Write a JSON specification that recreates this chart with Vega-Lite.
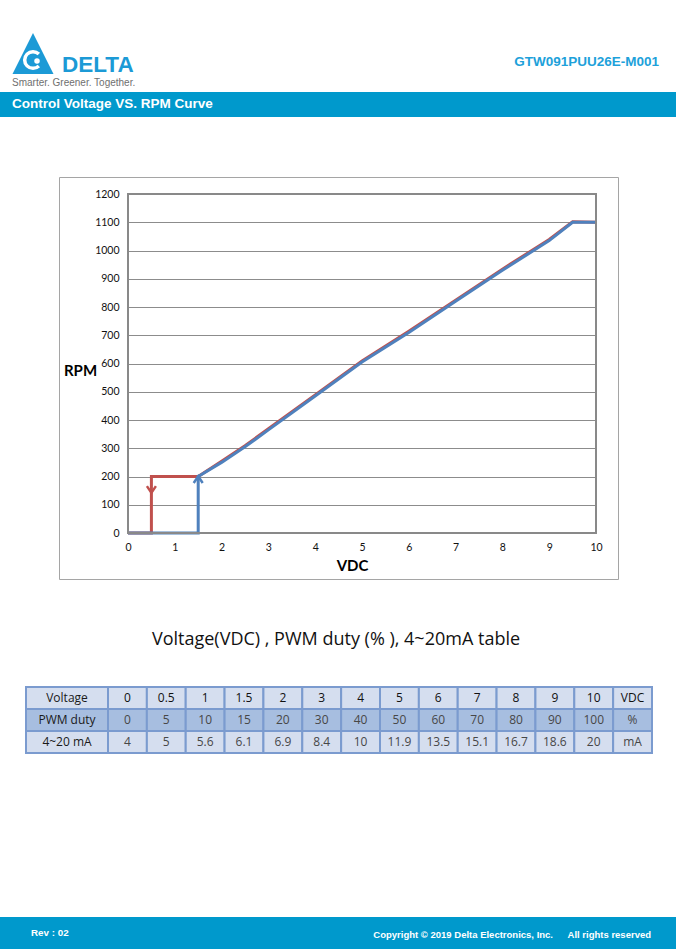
{
  "$schema": "https://vega.github.io/schema/vega-lite/v6.json",
  "width": 676,
  "height": 952,
  "padding": 0,
  "autosize": {"type": "none"},
  "background": "#ffffff",
  "config": {"view": {"stroke": null}, "font": "Liberation Sans"},
  "datasets": {
    "curve": [
      {"series": "down", "step": 1, "vdc": 10, "rpm": 1100},
      {"series": "down", "step": 2, "vdc": 9.5, "rpm": 1102},
      {"series": "down", "step": 3, "vdc": 9, "rpm": 1039},
      {"series": "down", "step": 4, "vdc": 8, "rpm": 934},
      {"series": "down", "step": 5, "vdc": 7, "rpm": 824},
      {"series": "down", "step": 6, "vdc": 6, "rpm": 714},
      {"series": "down", "step": 7, "vdc": 5, "rpm": 609},
      {"series": "down", "step": 8, "vdc": 4, "rpm": 489},
      {"series": "down", "step": 9, "vdc": 3, "rpm": 369},
      {"series": "down", "step": 10, "vdc": 2.5, "rpm": 309},
      {"series": "down", "step": 11, "vdc": 2, "rpm": 254},
      {"series": "down", "step": 12, "vdc": 1.5, "rpm": 200},
      {"series": "down", "step": 13, "vdc": 0.5, "rpm": 200},
      {"series": "down", "step": 14, "vdc": 0.5, "rpm": 0},
      {"series": "down", "step": 15, "vdc": 0, "rpm": 0},
      {"series": "up", "step": 1, "vdc": 0, "rpm": 0},
      {"series": "up", "step": 2, "vdc": 1.5, "rpm": 0},
      {"series": "up", "step": 3, "vdc": 1.5, "rpm": 200},
      {"series": "up", "step": 4, "vdc": 2, "rpm": 250},
      {"series": "up", "step": 5, "vdc": 2.5, "rpm": 305},
      {"series": "up", "step": 6, "vdc": 3, "rpm": 365},
      {"series": "up", "step": 7, "vdc": 4, "rpm": 485},
      {"series": "up", "step": 8, "vdc": 5, "rpm": 605},
      {"series": "up", "step": 9, "vdc": 6, "rpm": 710},
      {"series": "up", "step": 10, "vdc": 7, "rpm": 820},
      {"series": "up", "step": 11, "vdc": 8, "rpm": 930},
      {"series": "up", "step": 12, "vdc": 9, "rpm": 1035},
      {"series": "up", "step": 13, "vdc": 9.5, "rpm": 1100},
      {"series": "up", "step": 14, "vdc": 10, "rpm": 1100}
    ],
    "arrows": [
      {"series": "down", "vdc": 0.5, "rpm": 154},
      {"series": "up", "vdc": 1.5, "rpm": 189}
    ],
    "rowlabels": [
      {"row": "Voltage"},
      {"row": "PWM duty"},
      {"row": "4~20 mA"}
    ],
    "cells": [
      {"row": "Voltage", "col": "0", "value": "0"},
      {"row": "Voltage", "col": "0.5", "value": "0.5"},
      {"row": "Voltage", "col": "1", "value": "1"},
      {"row": "Voltage", "col": "1.5", "value": "1.5"},
      {"row": "Voltage", "col": "2", "value": "2"},
      {"row": "Voltage", "col": "3", "value": "3"},
      {"row": "Voltage", "col": "4", "value": "4"},
      {"row": "Voltage", "col": "5", "value": "5"},
      {"row": "Voltage", "col": "6", "value": "6"},
      {"row": "Voltage", "col": "7", "value": "7"},
      {"row": "Voltage", "col": "8", "value": "8"},
      {"row": "Voltage", "col": "9", "value": "9"},
      {"row": "Voltage", "col": "10", "value": "10"},
      {"row": "Voltage", "col": "unit", "value": "VDC"},
      {"row": "PWM duty", "col": "0", "value": "0"},
      {"row": "PWM duty", "col": "0.5", "value": "5"},
      {"row": "PWM duty", "col": "1", "value": "10"},
      {"row": "PWM duty", "col": "1.5", "value": "15"},
      {"row": "PWM duty", "col": "2", "value": "20"},
      {"row": "PWM duty", "col": "3", "value": "30"},
      {"row": "PWM duty", "col": "4", "value": "40"},
      {"row": "PWM duty", "col": "5", "value": "50"},
      {"row": "PWM duty", "col": "6", "value": "60"},
      {"row": "PWM duty", "col": "7", "value": "70"},
      {"row": "PWM duty", "col": "8", "value": "80"},
      {"row": "PWM duty", "col": "9", "value": "90"},
      {"row": "PWM duty", "col": "10", "value": "100"},
      {"row": "PWM duty", "col": "unit", "value": "%"},
      {"row": "4~20 mA", "col": "0", "value": "4"},
      {"row": "4~20 mA", "col": "0.5", "value": "5"},
      {"row": "4~20 mA", "col": "1", "value": "5.6"},
      {"row": "4~20 mA", "col": "1.5", "value": "6.1"},
      {"row": "4~20 mA", "col": "2", "value": "6.9"},
      {"row": "4~20 mA", "col": "3", "value": "8.4"},
      {"row": "4~20 mA", "col": "4", "value": "10"},
      {"row": "4~20 mA", "col": "5", "value": "11.9"},
      {"row": "4~20 mA", "col": "6", "value": "13.5"},
      {"row": "4~20 mA", "col": "7", "value": "15.1"},
      {"row": "4~20 mA", "col": "8", "value": "16.7"},
      {"row": "4~20 mA", "col": "9", "value": "18.6"},
      {"row": "4~20 mA", "col": "10", "value": "20"},
      {"row": "4~20 mA", "col": "unit", "value": "mA"}
    ]
  },
  "layer": [
    {
      "data": {"values": [{}]},
      "mark": {"type": "point", "shape": "M0,-1L1,1L-1,1Z", "filled": true, "fill": "#1C9AD6", "strokeWidth": 0, "size": 1680, "opacity": 1},
      "encoding": {"x": {"value": 33}, "y": {"value": 53.5}}
    },
    {
      "data": {"values": [{}]},
      "mark": {"type": "point", "shape": "M0.7,-0.72A1,1,0,1,0,0.7,0.72", "filled": false, "stroke": "#ffffff", "strokeWidth": 3.5, "size": 280, "opacity": 1},
      "encoding": {"x": {"value": 33}, "y": {"value": 60}}
    },
    {
      "data": {"values": [{}]},
      "mark": {"type": "point", "shape": "circle", "filled": true, "fill": "#ffffff", "strokeWidth": 0, "size": 30, "opacity": 1},
      "encoding": {"x": {"value": 37}, "y": {"value": 61}}
    },
    {
      "data": {"values": [{"t": "DELTA"}]},
      "mark": {"type": "text", "font": "Liberation Sans", "fontSize": 22.5, "fontWeight": "bold", "fill": "#1C9AD6", "align": "left", "baseline": "alphabetic"},
      "encoding": {"x": {"value": 62}, "y": {"value": 72}, "text": {"field": "t"}}
    },
    {
      "data": {"values": [{"t": "Smarter. Greener. Together."}]},
      "mark": {"type": "text", "font": "Liberation Sans", "fontSize": 10, "fill": "#6f6f6f", "align": "left", "baseline": "alphabetic"},
      "encoding": {"x": {"value": 12}, "y": {"value": 86}, "text": {"field": "t"}}
    },
    {
      "data": {"values": [{"t": "GTW091PUU26E-M001"}]},
      "mark": {"type": "text", "font": "Liberation Sans", "fontSize": 13.5, "fontWeight": "bold", "fill": "#1DA1DA", "align": "right", "baseline": "alphabetic"},
      "encoding": {"x": {"value": 659}, "y": {"value": 66}, "text": {"field": "t"}}
    },
    {
      "data": {"values": [{}]},
      "mark": {"type": "rect", "fill": "#0099CC"},
      "encoding": {"x": {"value": 0}, "x2": {"value": 676}, "y": {"value": 92}, "y2": {"value": 117}}
    },
    {
      "data": {"values": [{"t": "Control Voltage VS. RPM Curve"}]},
      "mark": {"type": "text", "font": "Liberation Sans", "fontSize": 13.5, "fontWeight": "bold", "fill": "#ffffff", "align": "left", "baseline": "alphabetic"},
      "encoding": {"x": {"value": 12}, "y": {"value": 108}, "text": {"field": "t"}}
    },
    {
      "data": {"values": [{}]},
      "mark": {"type": "rect", "fill": null, "stroke": "#A5A5A5", "strokeWidth": 1},
      "encoding": {"x": {"value": 59.5}, "x2": {"value": 618.5}, "y": {"value": 177.5}, "y2": {"value": 579.5}}
    },
    {
      "data": {"values": [{"t": "Voltage(VDC) , PWM duty (% ), 4~20mA table"}]},
      "mark": {"type": "text", "font": "Open Sans", "fontSize": 18, "fill": "#111111", "align": "center", "baseline": "middle"},
      "encoding": {"x": {"value": 336}, "y": {"value": 640}, "text": {"field": "t"}}
    },
    {
      "data": {"values": [{}]},
      "mark": {"type": "rect", "fill": "#0099CC"},
      "encoding": {"x": {"value": 0}, "x2": {"value": 676}, "y": {"value": 917}, "y2": {"value": 949}}
    },
    {
      "data": {"values": [{"t": "Rev : 02"}]},
      "mark": {"type": "text", "font": "Liberation Sans", "fontSize": 9.8, "fontWeight": "bold", "fill": "#ffffff", "align": "left", "baseline": "middle"},
      "encoding": {"x": {"value": 31}, "y": {"value": 933}, "text": {"field": "t"}}
    },
    {
      "data": {"values": [{"t": "Copyright © 2019 Delta Electronics, Inc."}]},
      "mark": {"type": "text", "font": "Liberation Sans", "fontSize": 9.5, "fontWeight": "bold", "fill": "#ffffff", "align": "right", "baseline": "middle"},
      "encoding": {"x": {"value": 553}, "y": {"value": 935}, "text": {"field": "t"}}
    },
    {
      "data": {"values": [{"t": "All rights reserved"}]},
      "mark": {"type": "text", "font": "Liberation Sans", "fontSize": 9.5, "fontWeight": "bold", "fill": "#ffffff", "align": "right", "baseline": "middle"},
      "encoding": {"x": {"value": 651}, "y": {"value": 935}, "text": {"field": "t"}}
    },
    {
      "data": {"name": "curve"},
      "layer": [
        {
          "transform": [{"filter": "datum.series === 'down'"}],
          "mark": {"type": "line", "color": "#C0504D", "strokeWidth": 3},
          "encoding": {
            "x": {
              "field": "vdc", "type": "quantitative",
              "scale": {"domain": [0, 10], "range": [128, 596], "nice": false, "zero": false},
              "axis": {
                "orient": "bottom", "offset": -419, "values": [0, 1, 2, 3, 4, 5, 6, 7, 8, 9, 10], "format": "d",
                "grid": false, "ticks": false, "domain": false,
                "labelFont": "Lato", "labelFontSize": 10.5, "labelColor": "#111111", "labelPadding": 9,
                "labelFlush": false, "labelOverlap": false,
                "title": "VDC", "titleFont": "Lato", "titleFontSize": 15, "titleFontWeight": "bold", "titleColor": "#000000",
                "titleX": 352, "titleY": 32, "titleAlign": "center", "titleBaseline": "middle"
              }
            },
            "y": {
              "field": "rpm", "type": "quantitative",
              "scale": {"domain": [0, 1200], "range": [533, 194], "nice": false, "zero": false},
              "axis": {
                "orient": "left", "offset": -128, "values": [0, 100, 200, 300, 400, 500, 600, 700, 800, 900, 1000, 1100, 1200], "format": "d",
                "grid": true, "gridColor": "#8C8C8C", "gridWidth": 1, "ticks": false, "domain": false,
                "labelFont": "Lato", "labelFontSize": 10.5, "labelColor": "#111111", "labelPadding": 9, "labelOverlap": false,
                "title": "RPM", "titleFont": "Lato", "titleFontSize": 15, "titleFontWeight": "bold", "titleColor": "#000000",
                "titleAngle": 0, "titleX": -48, "titleY": 370, "titleAlign": "center", "titleBaseline": "middle"
              }
            },
            "order": {"field": "step", "type": "quantitative"}
          }
        },
        {
          "transform": [{"filter": "datum.series === 'up'"}],
          "mark": {"type": "line", "color": "#4F81BD", "strokeWidth": 3},
          "encoding": {
            "x": {"field": "vdc", "type": "quantitative"},
            "y": {"field": "rpm", "type": "quantitative"},
            "order": {"field": "step", "type": "quantitative"}
          }
        },
        {
          "data": {"name": "arrows"},
          "transform": [{"filter": "datum.series === 'down'"}],
          "mark": {"type": "point", "shape": "M-1,-0.75L0,0.75L1,-0.75", "filled": false, "stroke": "#C0504D", "strokeWidth": 2.5, "size": 81, "opacity": 1},
          "encoding": {
            "x": {"field": "vdc", "type": "quantitative"},
            "y": {"field": "rpm", "type": "quantitative"}
          }
        },
        {
          "data": {"name": "arrows"},
          "transform": [{"filter": "datum.series === 'up'"}],
          "mark": {"type": "point", "shape": "M-1,0.75L0,-0.75L1,0.75", "filled": false, "stroke": "#4F81BD", "strokeWidth": 2.5, "size": 81, "opacity": 1},
          "encoding": {
            "x": {"field": "vdc", "type": "quantitative"},
            "y": {"field": "rpm", "type": "quantitative"}
          }
        },
        {
          "data": {"values": [{}]},
          "mark": {"type": "rect", "fill": null, "stroke": "#898989", "strokeWidth": 2},
          "encoding": {
            "x": {"datum": 0, "type": "quantitative"},
            "x2": {"datum": 10},
            "y": {"datum": 0, "type": "quantitative"},
            "y2": {"datum": 1200}
          }
        }
      ]
    },
    {
      "data": {"name": "cells"},
      "layer": [
        {
          "mark": {"type": "rect", "stroke": "#7B9BCF", "strokeWidth": 2},
          "encoding": {
            "x": {"field": "col", "type": "nominal", "scale": {"domain": ["0", "0.5", "1", "1.5", "2", "3", "4", "5", "6", "7", "8", "9", "10", "unit"], "range": [108, 652], "paddingInner": 0, "paddingOuter": 0}, "axis": null},
            "y": {"field": "row", "type": "nominal", "scale": {"domain": ["Voltage", "PWM duty", "4~20 mA"], "range": [687, 753], "paddingInner": 0, "paddingOuter": 0}, "axis": null},
            "fill": {"condition": {"test": "datum.row === 'PWM duty'", "value": "#A7BEE0"}, "value": "#D5DEEF"}
          }
        },
        {
          "mark": {"type": "text", "font": "Open Sans", "fontSize": 12, "align": "center", "baseline": "middle"},
          "encoding": {
            "x": {"field": "col", "type": "nominal"},
            "y": {"field": "row", "type": "nominal"},
            "text": {"field": "value"},
            "color": {"condition": {"test": "datum.row === 'Voltage'", "value": "#111111"}, "value": "#474747"}
          }
        },
        {
          "data": {"name": "rowlabels"},
          "mark": {"type": "rect", "stroke": "#7B9BCF", "strokeWidth": 2},
          "encoding": {
            "x": {"value": 26},
            "x2": {"value": 108},
            "y": {"field": "row", "type": "nominal"},
            "fill": {"condition": {"test": "datum.row === 'PWM duty'", "value": "#A7BEE0"}, "value": "#D5DEEF"}
          }
        },
        {
          "data": {"name": "rowlabels"},
          "mark": {"type": "text", "font": "Open Sans", "fontSize": 12, "align": "center", "baseline": "middle", "color": "#1a1a1a"},
          "encoding": {
            "x": {"value": 67},
            "y": {"field": "row", "type": "nominal"},
            "text": {"field": "row"}
          }
        }
      ]
    }
  ],
  "resolve": {"scale": {"x": "independent", "y": "independent"}}
}
